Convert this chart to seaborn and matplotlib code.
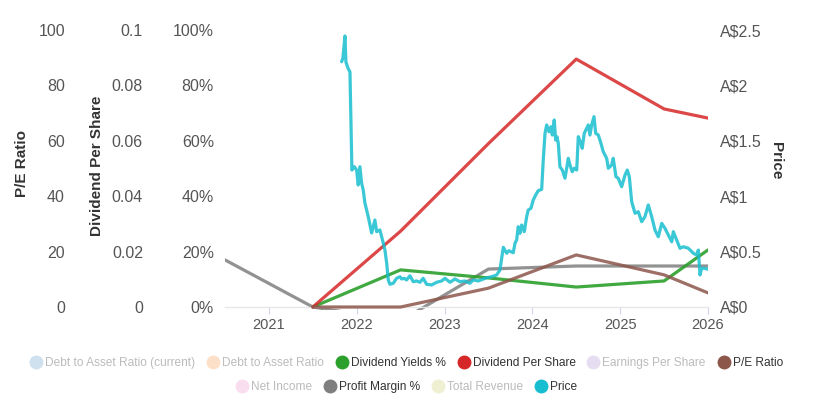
import matplotlib
matplotlib.use("Agg")
import matplotlib.pyplot as plt
import seaborn as sns
from matplotlib.lines import Line2D
from matplotlib.ticker import FuncFormatter, FixedLocator

# report dates as decimal years
fy_dates = [2021.5, 2022.5, 2023.5, 2024.5, 2025.5, 2026.0]
dividend_yield = [0.0, 13.4, 10.5, 7.2, 9.4, 20.6]
dividend_per_share = [0.0, 0.0274, 0.059, 0.0895, 0.0715, 0.0682]
pe_ratio = [0.0, 0.0, 6.8, 18.8, 11.6, 5.1]

margin_dates = [2020.5, 2021.5, 2022.5, 2023.5, 2024.5, 2025.5, 2026.0]
profit_margin = [17.0, 0.0, -5.0, 13.7, 14.8, 14.8, 14.8]

# share price
price_dates = [
    2021.828, 2021.843, 2021.866, 2021.877, 2021.900, 2021.923, 2021.945, 2021.972,
    2021.999, 2022.017, 2022.036, 2022.056, 2022.074, 2022.093, 2022.131, 2022.170,
    2022.207, 2022.227, 2022.264, 2022.302, 2022.321, 2022.341, 2022.359, 2022.378,
    2022.416, 2022.454, 2022.492, 2022.511, 2022.541, 2022.568, 2022.606, 2022.644,
    2022.682, 2022.720, 2022.757, 2022.796, 2022.853, 2022.910, 2022.967, 2023.005,
    2023.062, 2023.118, 2023.175, 2023.232, 2023.289, 2023.327, 2023.384, 2023.441,
    2023.479, 2023.536, 2023.593, 2023.631, 2023.650, 2023.669, 2023.707, 2023.733,
    2023.782, 2023.802, 2023.821, 2023.839, 2023.859, 2023.878, 2023.908, 2023.935,
    2023.953, 2023.984, 2024.010, 2024.038, 2024.067, 2024.106, 2024.124, 2024.144,
    2024.163, 2024.189, 2024.212, 2024.227, 2024.249, 2024.265, 2024.280, 2024.295,
    2024.314, 2024.341, 2024.371, 2024.391, 2024.409, 2024.428, 2024.454, 2024.477,
    2024.505, 2024.523, 2024.554, 2024.568, 2024.591, 2024.618, 2024.637, 2024.656,
    2024.675, 2024.702, 2024.721, 2024.751, 2024.781, 2024.807, 2024.846, 2024.865,
    2024.903, 2024.921, 2024.952, 2024.978, 2025.017, 2025.055, 2025.081, 2025.104,
    2025.131, 2025.169, 2025.206, 2025.245, 2025.282, 2025.320, 2025.359, 2025.396,
    2025.434, 2025.473, 2025.510, 2025.548, 2025.587, 2025.605, 2025.643, 2025.681,
    2025.719, 2025.776, 2025.833, 2025.871, 2025.890, 2025.909, 2025.928, 2025.966,
    2026.000,
]
price = [
    2.214, 2.247, 2.446, 2.211, 2.157, 2.121, 1.236, 1.266,
    1.236, 1.101, 1.266, 1.116, 1.056, 0.939, 0.815, 0.668,
    0.785, 0.680, 0.695, 0.578, 0.514, 0.397, 0.244, 0.205,
    0.214, 0.259, 0.273, 0.253, 0.259, 0.244, 0.282, 0.228,
    0.235, 0.223, 0.259, 0.205, 0.199, 0.223, 0.235, 0.259,
    0.223, 0.253, 0.228, 0.235, 0.214, 0.244, 0.235, 0.253,
    0.264, 0.273, 0.289, 0.334, 0.440, 0.539, 0.485, 0.508,
    0.490, 0.575, 0.605, 0.725, 0.665, 0.740, 0.680, 0.815,
    0.875, 0.891, 0.966, 1.011, 1.050, 1.062, 1.327, 1.568,
    1.643, 1.582, 1.627, 1.552, 1.688, 1.507, 1.537, 1.477,
    1.266, 1.236, 1.162, 1.252, 1.342, 1.282, 1.221, 1.252,
    1.236, 1.537, 1.477, 1.432, 1.568, 1.613, 1.643, 1.552,
    1.643, 1.718, 1.568, 1.552, 1.477, 1.402, 1.342, 1.252,
    1.282, 1.342, 1.176, 1.162, 1.086, 1.191, 1.236, 1.176,
    0.950, 0.846, 0.860, 0.770, 0.815, 0.921, 0.815, 0.695,
    0.634, 0.755, 0.710, 0.650, 0.589, 0.680, 0.605, 0.530,
    0.544, 0.530, 0.485, 0.469, 0.514, 0.289, 0.349, 0.349,
    0.340,
]

year_ticks = [2021, 2022, 2023, 2024, 2025, 2026]

legend_names = [
    "Debt to Asset Ratio (current)", "Debt to Asset Ratio", "Dividend Yields %",
    "Dividend Per Share", "Earnings Per Share", "P/E Ratio",
    "Net Income", "Profit Margin %", "Total Revenue", "Price",
]
legend_colors = [
    "#cfe0ee", "#fde0c8", "#2ca02c", "#d62728", "#e6ddf0", "#8c564b",
    "#f9def0", "#7f7f7f", "#efefd2", "#17becf",
]
legend_active = [False, False, True, True, False, True, False, True, False, True]

sns.set_style("white")
plt.rcParams["font.family"] = ["Liberation Sans", "DejaVu Sans"]

TICK_COLOR = "#555555"
TITLE_COLOR = "#333333"

fig = plt.figure(figsize=(8.13, 4.0), dpi=100)
rect = [225 / 813, 90 / 400, 483 / 813, 280 / 400]
ax = fig.add_axes(rect)
ax_dps = ax.twinx()
ax_pe = ax.twinx()
ax_price = ax.twinx()

lw = 2.3
sns.lineplot(x=margin_dates, y=profit_margin, ax=ax, color="#7f7f7f", alpha=0.85, lw=lw)
sns.lineplot(x=fy_dates, y=dividend_yield, ax=ax, color="#2ca02c", alpha=0.9, lw=lw)
sns.lineplot(x=fy_dates, y=dividend_per_share, ax=ax_dps, color="#d62728", alpha=0.85, lw=lw)
sns.lineplot(x=fy_dates, y=pe_ratio, ax=ax_pe, color="#8c564b", alpha=0.85, lw=lw)
sns.lineplot(x=price_dates, y=price, ax=ax_price, color="#17becf", alpha=0.85, lw=lw,
             estimator=None, sort=False)

low = -3 / 277
ax.set_ylim(low * 100, 100)
ax_pe.set_ylim(low * 100, 100)
ax_dps.set_ylim(low * 0.1, 0.1)
ax_price.set_ylim(low * 2.5, 2.5)
ax.set_xlim(2020.5, 2026.0)

ax.xaxis.set_major_locator(FixedLocator(year_ticks))
ax.xaxis.set_major_formatter(FuncFormatter(lambda v, p: f"{v:.0f}"))
ax.tick_params(axis="x", length=5, color="#ccd6eb", labelsize=10.5,
               labelcolor=TICK_COLOR, pad=3, direction="out", bottom=True)

ax.yaxis.set_major_locator(FixedLocator([0, 20, 40, 60, 80, 100]))
ax.yaxis.set_major_formatter(FuncFormatter(lambda v, p: f"{v:.0f}%"))
ax_pe.yaxis.set_major_locator(FixedLocator([0, 20, 40, 60, 80, 100]))
ax_pe.yaxis.set_major_formatter(FuncFormatter(lambda v, p: f"{v:.0f}"))
ax_dps.yaxis.set_major_locator(FixedLocator([0, 0.02, 0.04, 0.06, 0.08, 0.1]))
ax_dps.yaxis.set_major_formatter(FuncFormatter(lambda v, p: f"{v:g}"))
ax_price.yaxis.set_major_locator(FixedLocator([0, 0.5, 1, 1.5, 2, 2.5]))
ax_price.yaxis.set_major_formatter(FuncFormatter(lambda v, p: f"A${v:g}"))

for a in (ax_dps, ax_pe):
    a.yaxis.set_ticks_position("left")
    a.yaxis.set_label_position("left")
ax_dps.spines["left"].set_position(("outward", 71 * 0.72))
ax_pe.spines["left"].set_position(("outward", 149 * 0.72))

for a in (ax, ax_dps, ax_pe, ax_price):
    for s in a.spines.values():
        s.set_visible(False)
    a.tick_params(axis="y", length=0, labelsize=11.5, labelcolor=TICK_COLOR)
    a.set_ylabel("")
    a.grid(False)
ax.tick_params(axis="y", pad=8)
ax_dps.tick_params(axis="y", pad=8)
ax_pe.tick_params(axis="y", pad=8)
ax_price.tick_params(axis="y", pad=8.5)

ax.spines["bottom"].set_visible(True)
ax.spines["bottom"].set_position(("data", 0))
ax.spines["bottom"].set_color("#e6e6e6")
ax.spines["bottom"].set_linewidth(1)

fig.text(22 / 813, 1 - 164 / 400, "P/E Ratio", rotation=90, ha="center", va="center",
         fontsize=11, fontweight="bold", color=TITLE_COLOR)
fig.text(97 / 813, 1 - 166 / 400, "Dividend Per Share", rotation=90, ha="center",
         va="center", fontsize=11, fontweight="bold", color=TITLE_COLOR)
fig.text(776 / 813, 1 - 161 / 400, "Price", rotation=270, ha="center", va="center",
         fontsize=11, fontweight="bold", color=TITLE_COLOR)

handles = [Line2D([], [], ls="", marker="o", ms=9, color=c, mec=c) for c in legend_colors]
rows = [(0, 6, 363), (6, 10, 387)]
for start, end, ypix in rows:
    leg = fig.legend(handles[start:end], legend_names[start:end], loc="center",
                     bbox_to_anchor=(0.5, 1 - ypix / 400), ncol=end - start,
                     frameon=False, fontsize=8.6, handletextpad=0.25,
                     columnspacing=1.0, handlelength=1.0)
    for txt, on in zip(leg.get_texts(), legend_active[start:end]):
        txt.set_color(TITLE_COLOR if on else "#bbbbbb")

fig.savefig("out.png", dpi=100)
